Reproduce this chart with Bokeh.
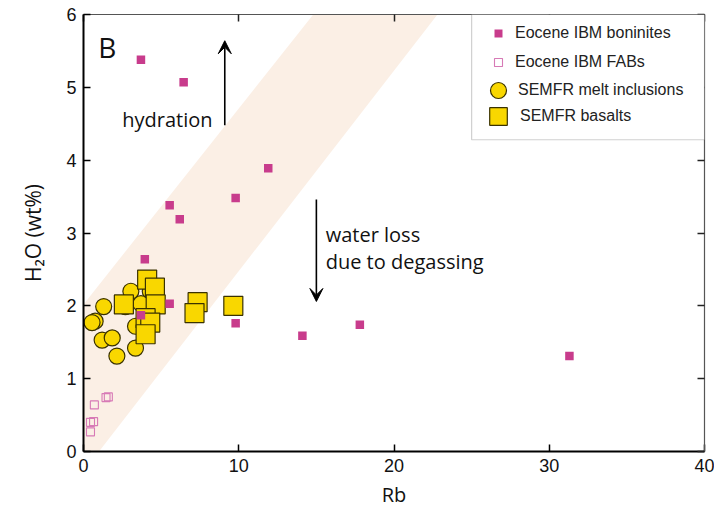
from bokeh.plotting import figure
from bokeh.models import (LinearAxis, FixedTicker, Range1d, Legend, LegendItem,
                          Arrow, VeeHead, Label, BoxAnnotation)
from bokeh.embed import file_html
from bokeh.resources import INLINE

# ---------------- data ----------------
boninite_rb = [3.7, 6.45, 11.9, 9.8, 5.55, 6.2, 3.95, 5.55, 3.7, 9.8, 14.1, 17.8, 31.3]
boninite_h2o = [5.38, 5.07, 3.89, 3.48, 3.38, 3.19, 2.64, 2.03, 1.87, 1.76, 1.59, 1.74, 1.31]

fab_rb = [0.7, 1.45, 1.6, 0.45, 0.65, 0.45]
fab_h2o = [0.64, 0.74, 0.75, 0.40, 0.41, 0.27]

mi_rb = [1.3, 0.75, 0.55, 1.2, 1.85, 2.15, 3.05, 2.7, 4.3, 3.35, 3.35, 3.7]
mi_h2o = [1.99, 1.79, 1.77, 1.53, 1.56, 1.31, 2.20, 1.99, 2.20, 1.72, 1.42, 2.03]

bas_rb = [4.1, 4.6, 2.6, 4.65, 4.0, 4.3, 4.0, 7.35, 7.15, 9.65]
bas_h2o = [2.36, 2.25, 2.02, 2.02, 1.83, 1.77, 1.61, 2.05, 1.90, 2.00]

# hydration band (Rb, H2O)
band_rb = [0.0, 1.0, 22.8, 14.8, 0.0]
band_h2o = [0.0, 0.0, 6.0, 6.0, 2.02]

x_ticks = [0, 10, 20, 30, 40]
y_ticks = [0, 1, 2, 3, 4, 5, 6]

# annotation arrows: (x, y_start, y_end)
hydration_arrow = [9.1, 4.48, 5.64]
degassing_arrow = [15.0, 3.46, 2.06]

YELLOW = "#f9d700"
EDGE = "#3a3200"
MAGENTA = "#c83c8c"
PINK = "#d77ab6"

p = figure(width=714, height=510, output_backend="svg", toolbar_location=None,
           x_range=Range1d(0, 40), y_range=Range1d(0, 6),
           min_border_left=83, min_border_right=10, min_border_top=14,
           min_border_bottom=59, x_axis_location=None, y_axis_location=None)
p.outline_line_color = None
p.grid.visible = False
p.background_fill_color = "white"
p.border_fill_color = "white"

TICK_FONT = "Liberation Sans"

def mk_axis(ticks, label, main):
    ax = LinearAxis(ticker=FixedTicker(ticks=ticks))
    ax.major_tick_in = 7
    ax.major_tick_out = 0
    ax.minor_tick_line_color = None
    if main:
        ax.axis_line_width = 2
        ax.axis_line_color = "black"
        ax.major_tick_line_width = 1.5
        ax.major_tick_line_color = "black"
        ax.major_label_text_font = TICK_FONT
        ax.major_label_text_font_size = "18px"
        ax.major_label_text_color = "#111"
        ax.major_label_standoff = 7
        ax.axis_label = label
        ax.axis_label_text_font = "Open Sans"
        ax.axis_label_text_font_size = "20px"
        ax.axis_label_text_font_style = "normal"
        ax.axis_label_text_color = "#111"
    else:
        ax.axis_line_width = 1.2
        ax.axis_line_color = "#555"
        ax.major_tick_line_width = 1.5
        ax.major_tick_line_color = "#222"
        ax.major_label_overrides = {t: "" for t in ticks}
        ax.major_label_text_font_size = "1px"
        ax.major_label_standoff = 0
    return ax

xb = mk_axis(x_ticks, "Rb", True)
xb.axis_label_standoff = 6
p.add_layout(xb, "below")
yl = mk_axis(y_ticks, "H\u2082O (wt%)", True)
yl.axis_label_standoff = 16
yl.axis_label_text_font_size = "21px"
p.add_layout(yl, "left")
p.add_layout(mk_axis(x_ticks, None, False), "above")
p.add_layout(mk_axis(y_ticks, None, False), "right")

# band
p.patch(band_rb, band_h2o, fill_color="#fbefe5", line_color=None)

# data
r_mi = p.scatter(mi_rb, mi_h2o, marker="circle", size=16, fill_color=YELLOW,
                 line_color=EDGE, line_width=1.2)
r_bas = p.scatter(bas_rb, bas_h2o, marker="square", size=19, fill_color=YELLOW,
                  line_color=EDGE, line_width=1.2)
r_fab = p.scatter(fab_rb, fab_h2o, marker="square", size=8, fill_color="white",
                  fill_alpha=0.0, line_color=PINK, line_width=1.1)
r_bon = p.scatter(boninite_rb, boninite_h2o, marker="square", size=8.5,
                  fill_color=MAGENTA, line_color=None)

# arrows
for arr in (hydration_arrow, degassing_arrow):
    p.add_layout(Arrow(x_start=arr[0], y_start=arr[1], x_end=arr[0], y_end=arr[2],
                       line_width=1.6, line_color="black",
                       end=VeeHead(size=13, fill_color="black", line_color="black")))

# text
p.add_layout(Label(x=0.95, y=5.55, text="B", text_font="Open Sans",
                   text_font_size="28px", text_color="#111", text_baseline="middle"))
for tx, ty, tt in [(2.5, 4.56, "hydration"), (15.6, 2.98, "water loss"),
                   (15.6, 2.61, "due to degassing")]:
    p.add_layout(Label(x=tx, y=ty, text=tt, text_font="Open Sans",
                       text_font_size="20px", text_color="#111", text_baseline="middle"))

# legend box
p.add_layout(BoxAnnotation(left=25.0, right=40, top=6, bottom=4.28,
                           fill_color="white", fill_alpha=1.0,
                           line_color="#666", line_width=1.2))

def mk_legend(label, rend, g, loc, standoff):
    lg = Legend(items=[LegendItem(label=label, renderers=[rend])], location=loc,
                glyph_width=g, glyph_height=g, label_height=g, label_standoff=standoff,
                padding=0, margin=0, border_line_color=None, background_fill_alpha=0,
                label_text_font=TICK_FONT, label_text_font_size="16px",
                label_text_color="#222")
    p.add_layout(lg)

mk_legend("Eocene IBM boninites", r_bon, 20, (405, 408), 7)
mk_legend("Eocene IBM FABs", r_fab, 20, (405, 379), 7)
mk_legend("SEMFR melt inclusions", r_mi, 40, (395, 341), 0)
mk_legend("SEMFR basalts", r_bas, 44, (393, 313), 0)

open("out.html", "w").write(file_html(p, INLINE))
